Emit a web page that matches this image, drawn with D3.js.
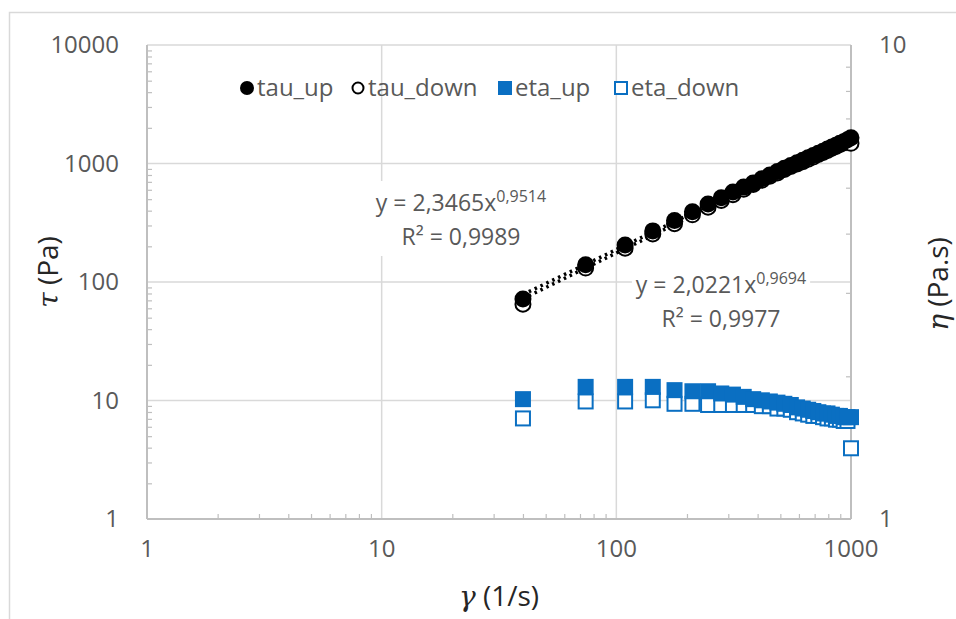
<!DOCTYPE html>
<html>
<head>
<meta charset="utf-8">
<script src="https://cdn.jsdelivr.net/npm/d3@7"></script>
<style>
  html, body { margin: 0; padding: 0; background: #ffffff; }
  svg { display: block; }
  .tick-label { font-family: "Open Sans", "DejaVu Sans", sans-serif; font-size: 24px; fill: #595959; }
  .legend-label { font-family: "Open Sans", "DejaVu Sans", sans-serif; font-size: 24px; fill: #595959; }
  .eq-label { font-family: "Open Sans", "DejaVu Sans", sans-serif; font-size: 23px; fill: #595959; }
  .axis-title { font-family: "Open Sans", "DejaVu Sans", sans-serif; font-size: 28px; fill: #262626; }
  .sym { font-family: "DejaVu Serif", serif; font-style: italic; }
</style>
</head>
<body>
<svg id="chart" width="956" height="619"></svg>
<script>
// Shear rate (1/s)
const gamma = [40, 74, 109, 143, 177, 211, 246, 280, 314, 349, 383, 417, 451, 486, 520,
               554, 589, 623, 657, 691, 726, 760, 794, 829, 863, 897, 931, 966, 1000];
// Shear stress, ramp up / ramp down (Pa)
const tauUp = [72, 140, 205, 270, 330, 392, 456, 515, 574, 632, 686, 742, 798, 855, 910,
               964, 1013, 1065, 1117, 1168, 1220, 1269, 1326, 1376, 1424, 1480, 1527, 1584, 1650];
const tauDown = [65, 131, 193, 254, 310, 369, 428, 487, 546, 607, 666, 721, 780, 831, 889,
                 942, 990, 1035, 1084, 1133, 1191, 1239, 1286, 1343, 1389, 1444, 1490, 1530, 1480];
// Viscosity, ramp up / ramp down (Pa.s)
const etaUp = [1.79, 1.90, 1.90, 1.90, 1.87, 1.86, 1.86, 1.84, 1.83, 1.81, 1.79, 1.78, 1.77, 1.76, 1.75,
               1.74, 1.72, 1.71, 1.70, 1.69, 1.68, 1.67, 1.67, 1.66, 1.65, 1.65, 1.64, 1.64, 1.64];
const etaDown = [1.63, 1.77, 1.77, 1.78, 1.75, 1.75, 1.74, 1.74, 1.74, 1.74, 1.74, 1.73, 1.73, 1.71, 1.71,
                 1.70, 1.68, 1.67, 1.66, 1.65, 1.65, 1.64, 1.63, 1.63, 1.62, 1.62, 1.61, 1.61, 1.41];

// Power-law trendlines (tau_up, tau_down)
const fitCoef = [2.3465, 2.0221];
const fitExp = [0.9514, 0.9694];
const fitR2 = ["0,9989", "0,9977"];

// Axis ticks
const xTicks = [1, 10, 100, 1000];
const yTicks = [1, 10, 100, 1000, 10000];
const y2Ticks = [1, 10];
const legendNames = ["tau_up", "tau_down", "eta_up", "eta_down"];

const BLUE = "#0a6fc2";
const GRID = "#d9d9d9";
const AXIS = "#bfbfbf";

const svg = d3.select("#chart");

// outer chart-area frame
svg.append("rect").attr("x", 9.5).attr("y", 12.5).attr("width", 1000).attr("height", 700)
  .attr("fill", "none").attr("stroke", "#d9d9d9").attr("stroke-width", 1.5);

const plot = { left: 147, right: 851, top: 45, bottom: 519 };

const x = d3.scaleLog().domain([1, 1000]).range([plot.left, plot.right]);
const y = d3.scaleLog().domain([1, 10000]).range([plot.bottom, plot.top]);
const y2 = d3.scaleLog().domain([1, 10]).range([plot.bottom, plot.top]);

// minor tick values for each log axis
function minors(domain) {
  const out = [];
  for (let p = Math.log10(domain[0]); p < Math.log10(domain[1]); p++) {
    for (let k = 2; k <= 9; k++) out.push(k * Math.pow(10, p));
  }
  return out;
}

// gridlines
const g = svg.append("g");
g.selectAll(".hgrid").data(yTicks.slice(1)).join("line")
  .attr("x1", plot.left).attr("x2", plot.right)
  .attr("y1", d => y(d)).attr("y2", d => y(d))
  .attr("stroke", GRID).attr("stroke-width", 1.5);
g.selectAll(".vgrid").data(xTicks.slice(1, 3)).join("line")
  .attr("x1", d => x(d)).attr("x2", d => x(d))
  .attr("y1", plot.top).attr("y2", plot.bottom)
  .attr("stroke", GRID).attr("stroke-width", 1.5);

// axes (minor ticks pointing into the plot, labels drawn separately)
const xAxis = d3.axisTop(x).tickValues(minors(x.domain())).tickSize(5).tickFormat("");
svg.append("g").attr("transform", `translate(0,${plot.bottom})`).call(xAxis)
  .call(s => s.select(".domain").remove())
  .call(s => s.selectAll("line").attr("stroke", AXIS).attr("stroke-width", 1.2));
const yAxis = d3.axisRight(y).tickValues(minors(y.domain())).tickSize(5).tickFormat("");
svg.append("g").attr("transform", `translate(${plot.left},0)`).call(yAxis)
  .call(s => s.select(".domain").remove())
  .call(s => s.selectAll("line").attr("stroke", AXIS).attr("stroke-width", 1.2));
const y2Axis = d3.axisLeft(y2).tickValues(minors(y2.domain())).tickSize(5).tickFormat("");
svg.append("g").attr("transform", `translate(${plot.right},0)`).call(y2Axis)
  .call(s => s.select(".domain").remove())
  .call(s => s.selectAll("line").attr("stroke", AXIS).attr("stroke-width", 1.2));

// axis lines
svg.append("line").attr("x1", plot.left).attr("x2", plot.right).attr("y1", plot.bottom).attr("y2", plot.bottom)
  .attr("stroke", AXIS).attr("stroke-width", 2);
svg.append("line").attr("x1", plot.left).attr("x2", plot.left).attr("y1", plot.top).attr("y2", plot.bottom)
  .attr("stroke", AXIS).attr("stroke-width", 2);
svg.append("line").attr("x1", plot.right).attr("x2", plot.right).attr("y1", plot.top).attr("y2", plot.bottom)
  .attr("stroke", AXIS).attr("stroke-width", 2);

// tick labels
svg.selectAll(".xl").data(xTicks).join("text").attr("class", "tick-label")
  .attr("x", d => x(d)).attr("y", 557).attr("text-anchor", "middle").text(d => d);
svg.selectAll(".yl").data(yTicks).join("text").attr("class", "tick-label")
  .attr("x", 119).attr("y", d => y(d) + 8).attr("text-anchor", "end").text(d => d);
svg.selectAll(".y2l").data(y2Ticks).join("text").attr("class", "tick-label")
  .attr("x", 879).attr("y", d => y2(d) + 8).attr("text-anchor", "start").text(d => d);

// axis titles
const tx = svg.append("text").attr("class", "axis-title").attr("text-anchor", "middle")
  .attr("transform", "translate(58,272) rotate(-90)");
tx.append("tspan").attr("class", "sym").text("τ");
tx.append("tspan").text(" (Pa)");
const xt = svg.append("text").attr("class", "axis-title").attr("text-anchor", "middle")
  .attr("x", 499).attr("y", 606);
xt.append("tspan").attr("class", "sym").text("γ");
xt.append("tspan").text(" (1/s)");
const yt2 = svg.append("text").attr("class", "axis-title").attr("text-anchor", "middle")
  .attr("transform", "translate(948,284) rotate(-90)");
yt2.append("tspan").attr("class", "sym").text("η");
yt2.append("tspan").text(" (Pa.s)");

// trendlines (power law: straight on log-log)
const xr = [gamma[0], gamma[gamma.length - 1]];
fitCoef.forEach((c, i) => {
  const pts = xr.map(v => [x(v), y(c * Math.pow(v, fitExp[i]))]);
  svg.append("path").attr("d", d3.line()(pts))
    .attr("fill", "none").attr("stroke", "#000").attr("stroke-width", 3.5)
    .attr("stroke-dasharray", "2.5,4");
});

const R = 8.5, S = 16;
const pts = svg.append("g");

// tau_down (open circles)
pts.selectAll(".td").data(gamma).join("circle")
  .attr("cx", d => x(d)).attr("cy", (d, i) => y(tauDown[i])).attr("r", R - 1)
  .attr("fill", "#fff").attr("stroke", "#000").attr("stroke-width", 2);
// tau_up (filled circles)
pts.selectAll(".tu").data(gamma).join("circle")
  .attr("cx", d => x(d)).attr("cy", (d, i) => y(tauUp[i])).attr("r", R)
  .attr("fill", "#000");
// eta_down (open squares)
pts.selectAll(".ed").data(gamma).join("rect")
  .attr("x", d => x(d) - (S - 2) / 2).attr("y", (d, i) => y2(etaDown[i]) - (S - 2) / 2)
  .attr("width", S - 2).attr("height", S - 2)
  .attr("fill", "#fff").attr("stroke", BLUE).attr("stroke-width", 2);
// eta_up (filled squares)
pts.selectAll(".eu").data(gamma).join("rect")
  .attr("x", d => x(d) - S / 2).attr("y", (d, i) => y2(etaUp[i]) - S / 2)
  .attr("width", S).attr("height", S).attr("fill", BLUE);

// trendline equations
function equation(cx, cy, i) {
  const grp = svg.append("g");
  const bg = grp.append("rect").attr("fill", "#fff");
  const t1 = grp.append("text").attr("class", "eq-label").attr("x", cx).attr("y", cy).attr("text-anchor", "middle");
  t1.append("tspan").text("y = " + fitCoef[i].toFixed(4).replace(".", ",") + "x");
  t1.append("tspan").attr("font-size", "16px").attr("dy", -9).text(fitExp[i].toFixed(4).replace(".", ","));
  const t2 = grp.append("text").attr("class", "eq-label").attr("x", cx).attr("y", cy + 34).attr("text-anchor", "middle")
    .text("R² = " + fitR2[i]);
  const b1 = t1.node().getBBox(), b2 = t2.node().getBBox();
  const x0 = Math.min(b1.x, b2.x) - 4, x1 = Math.max(b1.x + b1.width, b2.x + b2.width) + 4;
  bg.attr("x", x0).attr("y", b1.y - 4).attr("width", x1 - x0).attr("height", b2.y + b2.height - b1.y + 8);
}
equation(461, 211, 0);
equation(721, 293, 1);

// legend
const lg = svg.append("g").attr("transform", "translate(0,88)");
const legendX = [247, 358, 505, 621];
legendNames.forEach((name, i) => {
  const cx = legendX[i];
  if (i === 0) lg.append("circle").attr("cx", cx).attr("cy", 0).attr("r", 7).attr("fill", "#000");
  if (i === 1) lg.append("circle").attr("cx", cx).attr("cy", 0).attr("r", 5.5).attr("fill", "#fff").attr("stroke", "#000").attr("stroke-width", 2);
  if (i === 2) lg.append("rect").attr("x", cx - 7).attr("y", -7).attr("width", 14).attr("height", 14).attr("fill", BLUE);
  if (i === 3) lg.append("rect").attr("x", cx - 6).attr("y", -6).attr("width", 12).attr("height", 12).attr("fill", "#fff").attr("stroke", BLUE).attr("stroke-width", 2);
  lg.append("text").attr("class", "legend-label").attr("x", cx + 10).attr("y", 8).text(name);
});
</script>
</body>
</html>
